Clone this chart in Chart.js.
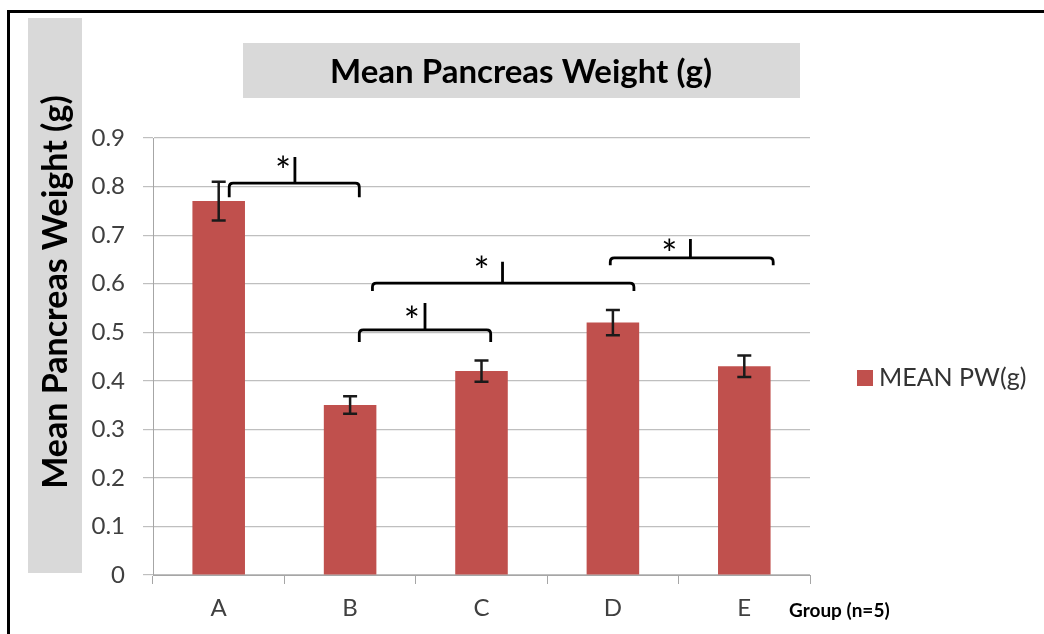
<!DOCTYPE html>
<html><head><meta charset="utf-8">
<script src="https://cdn.jsdelivr.net/npm/chart.js@4"></script>
<style>html,body{margin:0;padding:0;background:#fff}#wrap{width:1044px;height:634px}</style>
</head><body><div id="wrap"><canvas id="c" width="1044" height="634"></canvas></div>
<script>
const categories = ['A','B','C','D','E'];
const meanPW = [0.77, 0.35, 0.42, 0.52, 0.43];
const errPW = [0.04, 0.018, 0.022, 0.026, 0.022];
const yTicks = [0, 0.1, 0.2, 0.3, 0.4, 0.5, 0.6, 0.7, 0.8, 0.9];
// significance brackets: x in category units, y in value units
const bracketX1 = [0.08, 1.17, 1.07, 2.98];
const bracketX2 = [1.07, 3.16, 2.07, 4.22];
const bracketY = [0.807, 0.601, 0.505, 0.653];
const bracketDrop = [0.029, 0.016, 0.025, 0.015];
const bracketMidX = [0.58, 2.16, 1.57, 3.59];
const bracketTopY = [0.861, 0.645, 0.56, 0.692];
const starX = [0.49, 2.0, 1.47, 3.43];
const starY = [0.844, 0.638, 0.537, 0.675];

const FONT = 'Lato, "Open Sans", sans-serif';

const deco = {
  id: 'deco',
  beforeDraw(chart) {
    const ctx = chart.ctx;
    ctx.save();
    ctx.fillStyle = '#fff';
    ctx.fillRect(0,0,chart.width,chart.height);
    ctx.fillStyle = '#d9d9d9';
    ctx.fillRect(28, 18, 54, 555);
    ctx.fillRect(243, 43, 557, 55);
    ctx.fillStyle = '#000';
    ctx.fillRect(7, 10, 1037, 3);
    ctx.fillRect(7, 10, 3, 624);
    ctx.fillStyle = '#000';
    ctx.font = 'bold 33px ' + FONT;
    ctx.textAlign = 'center';
    ctx.textBaseline = 'middle';
    ctx.fillText('Mean Pancreas Weight (g)', 521, 72);
    ctx.translate(56, 292);
    ctx.rotate(-Math.PI/2);
    ctx.font = 'bold 34px ' + FONT;
    ctx.fillText('Mean Pancreas Weight (g)', 0, 0);
    ctx.restore();
  },
  afterDraw(chart) {
    const ctx = chart.ctx;
    const xs = chart.scales.x, ys = chart.scales.y;
    const unit = xs.getPixelForValue(1) - xs.getPixelForValue(0);
    const px = v => xs.getPixelForValue(0) + v * unit;
    const py = v => ys.getPixelForValue(v);
    ctx.save();
    ctx.strokeStyle = '#1a1a1a';
    ctx.lineWidth = 2.5;
    meanPW.forEach((m, i) => {
      const x = xs.getPixelForValue(i);
      const t = py(m + errPW[i]), b = py(m - errPW[i]);
      ctx.beginPath();
      ctx.moveTo(x, t); ctx.lineTo(x, b);
      ctx.moveTo(x-7, t); ctx.lineTo(x+7, t);
      ctx.moveTo(x-7, b); ctx.lineTo(x+7, b);
      ctx.stroke();
    });
    ctx.strokeStyle = '#000';
    ctx.lineWidth = 2.8;
    const r = 4;
    bracketX1.forEach((x1v, i) => {
      const x1 = px(x1v), x2 = px(bracketX2[i]);
      const y = py(bracketY[i]), yd = py(bracketY[i] - bracketDrop[i]);
      const xm = px(bracketMidX[i]), yt = py(bracketTopY[i]);
      ctx.beginPath();
      ctx.moveTo(x1, yd);
      ctx.lineTo(x1, y + r);
      ctx.quadraticCurveTo(x1, y, x1 + r, y);
      ctx.lineTo(x2 - r, y);
      ctx.quadraticCurveTo(x2, y, x2, y + r);
      ctx.lineTo(x2, yd);
      ctx.moveTo(xm, y);
      ctx.lineTo(xm, yt);
      ctx.stroke();
      ctx.fillStyle = '#000';
      ctx.font = '38px ' + FONT;
      ctx.textAlign = 'center';
      ctx.textBaseline = 'middle';
      ctx.fillText('*', px(starX[i]), py(starY[i]) + 8);
    });
    ctx.fillStyle = '#000';
    ctx.font = 'bold 19px ' + FONT;
    ctx.textAlign = 'left';
    ctx.textBaseline = 'middle';
    ctx.fillText('Group (n=5)', 789, 611);
    ctx.fillStyle = '#c0504d';
    ctx.fillRect(857, 370, 16, 16);
    ctx.fillStyle = '#333';
    ctx.font = '25px ' + FONT;
    ctx.fillText('MEAN PW(g)', 879, 378);
    ctx.restore();
  }
};

new Chart(document.getElementById('c'), {
  type: 'bar',
  data: {
    labels: categories,
    datasets: [{
      label: 'MEAN PW(g)',
      data: meanPW,
      backgroundColor: '#c0504d',
      borderWidth: 0,
      barPercentage: 0.4,
      categoryPercentage: 1.0
    }]
  },
  options: {
    responsive: false,
    animation: false,
    layout: { padding: { left: 0, right: 234, top: 138, bottom: 0 } },
    plugins: { legend: { display: false }, title: { display: false }, tooltip: { enabled: false } },
    scales: {
      x: {
        grid: { display: true, drawOnChartArea: false, color: '#a6a6a6', tickLength: 9, offset: true },
        border: { color: '#a6a6a6', width: 1 },
        ticks: { color: '#404040', font: { size: 24, family: FONT }, padding: 10 },
        afterFit(s) { s.height = 59; }
      },
      y: {
        min: 0, max: 0.9,
        afterBuildTicks(s) { s.ticks = yTicks.map(v => ({ value: v })); },
        grid: { color: '#bfbfbf', tickLength: 10, lineWidth: 1.2 },
        border: { color: '#a6a6a6', width: 1 },
        ticks: { color: '#404040', font: { size: 24, family: FONT }, padding: 18,
          callback: v => (v === 0 ? '0' : v.toFixed(1)) },
        afterFit(s) { s.width = 153; }
      }
    }
  },
  plugins: [deco]
});
</script>
</body></html>
